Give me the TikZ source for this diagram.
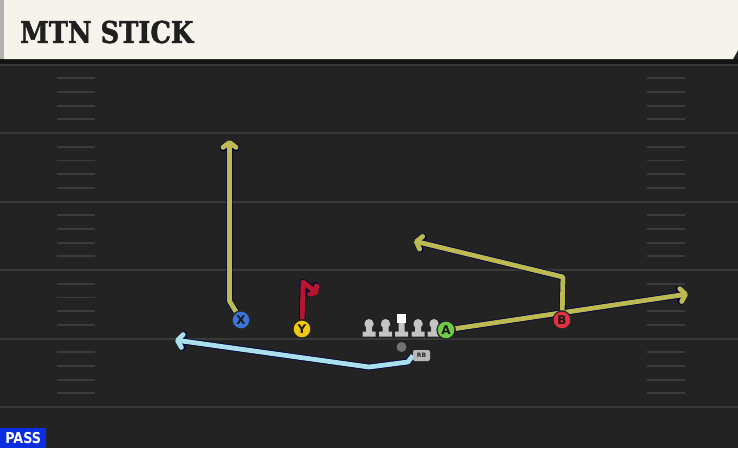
\documentclass[tikz,border=0pt]{standalone}
\usepackage{fontspec}
\setmainfont{DejaVu Sans}
\newfontfamily\titlefont{DejaVu Serif}[FakeStretch=0.86, BoldFeatures={FakeBold=1.5}]
\newfontfamily\tagfont{DejaVu Sans}[FakeStretch=0.85]
\usetikzlibrary{arrows.meta}
\definecolor{field}{HTML}{232323}
\definecolor{yardline}{HTML}{393939}
\definecolor{hashmark}{HTML}{3C3C3C}
\definecolor{header}{HTML}{F5F3EC}
\definecolor{olive}{HTML}{BDBA52}
\definecolor{crimson}{HTML}{B5172F}
\definecolor{skyblue}{HTML}{AADFEC}
\definecolor{xblue}{HTML}{3D74D8}
\definecolor{yyellow}{HTML}{F4C712}
\definecolor{agreen}{HTML}{6FCB47}
\definecolor{bred}{HTML}{E2323F}
\definecolor{passblue}{HTML}{0A2EE0}
\definecolor{lineman}{HTML}{C4C4C4}
\pgfdeclarelayer{field}
\pgfdeclarelayer{routes}
\pgfsetlayers{field,routes,main}
\tikzset{
  player/.style={circle, fill=#1, draw=black!85, line width=1.2pt, minimum size=18pt,
    inner sep=0pt, text=black!90, font=\bfseries\fontsize{12}{12}\selectfont},
  route/.style={draw=#1, line width=4.8pt, line join=round,
    preaction={draw=black!75!blue, line width=6.4pt, line join=round}},
  tip/.style={-{Straight Barb[length=5pt,width=13pt,round]}}
}
\begin{document}
\begin{tikzpicture}[x=1pt,y=-1pt]
  \useasboundingbox (0,0) rectangle (738,448);
  \begin{pgfonlayer}{field}
    \fill[field] (0,0) rectangle (738,448);
    \fill[black!92] (0,59) rectangle (738,64);
    \draw[yardline, line width=1.5pt] (0,65) -- (738,65);
    \foreach \k in {0,...,4}
      \draw[yardline, line width=2pt] (0,133+68.5*\k) -- (738,133+68.5*\k);
    \foreach \j in {-4,...,19}{
      \pgfmathtruncatemacro{\r}{mod(\j+10,5)}
      \ifnum\r=0\else
        \draw[hashmark, line width=1.8pt] (57,133+13.7*\j) -- (95,133+13.7*\j);
        \draw[hashmark, line width=1.8pt] (647,133+13.7*\j) -- (685,133+13.7*\j);
      \fi}
    \fill[header] (4,0) -- (738,0) -- (738,50) -- (733,59) -- (4,59) -- cycle;
    \fill[black!30] (0,0) rectangle (4,59);
  \end{pgfonlayer}
  \node[anchor=west, inner sep=0pt, text=black!88,
    font=\titlefont\bfseries\fontsize{30}{30}\selectfont] (title) at (20,32) {MTN STICK};
  \node[anchor=south west, fill=passblue, text=white, inner sep=2pt, minimum width=46pt,
    minimum height=20pt, font=\tagfont\bfseries\fontsize{15}{15}\selectfont] (pass) at (0,448) {PASS};
  % line
  \foreach \x in {369,385.5,418,434}{
    \fill[lineman] (\x-4.5,325) -- (\x-4.5,323.5) arc (180:360:4.5) -- (\x+4.5,325) -- (\x+3,327)
      -- (\x+3,331.5) -- (\x+6.5,331.5) -- (\x+6.5,336.5) -- (\x-6.5,336.5) -- (\x-6.5,331.5)
      -- (\x-3,331.5) -- (\x-3,327) -- cycle;}
  \fill[lineman] (398.5,322) rectangle (404.5,331.5) (395,331.5) rectangle (408,336.5);
  \fill[white] (396.5,313.5) rectangle (405.5,322.5);
  \node[circle, fill=black!55, inner sep=0pt, minimum size=10pt] (QB) at (401.5,347) {};
  \node[fill=black!28, rounded corners=2pt, inner sep=0pt, minimum width=17pt, minimum height=11pt,
    text=black!85, font=\bfseries\fontsize{6}{6}\selectfont] (RB) at (421.5,355.5) {RB};
  \node[player=xblue] (X) at (241,320) {X};
  \node[player=yyellow] (Y) at (302,329) {Y};
  \node[player=agreen] (A) at (446,330) {A};
  \node[player=bred] (B) at (562,320) {B};
  \coordinate (x1) at (229.5,301);
  \coordinate (x2) at (229.5,140);
  \coordinate (y1) at (303,282);
  \coordinate (y2) at (318,294);
  \coordinate (a1) at (688,294);
  \coordinate (b1) at (563,277);
  \coordinate (b2) at (414,241);
  \coordinate (r1) at (408,362);
  \coordinate (r2) at (369,367);
  \coordinate (r3) at (175,340);
  \begin{pgfonlayer}{routes}
    \draw[route=olive, tip] (X) -- (x1) -- (x2);
    \draw[route=crimson, -{Straight Barb[length=4pt,width=11pt,round]}] (Y) -- (y1) -- (y2);
    \draw[route=olive, tip] (A) -- (a1);
    \draw[route=olive, tip] (B) -- (b1) -- (b2);
    \draw[route=skyblue, tip] (RB.west) -- (r1) -- (r2) -- (r3);
  \end{pgfonlayer}
\end{tikzpicture}
\end{document}
